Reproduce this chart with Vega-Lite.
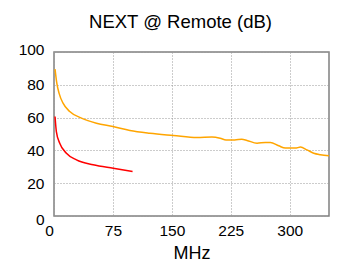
{
  "$schema": "https://vega.github.io/schema/vega-lite/v6.json",
  "width": 275,
  "height": 164,
  "autosize": {"type": "none"},
  "padding": {"left": 54, "top": 52, "right": 20, "bottom": 52},
  "background": "white",
  "title": {
    "text": "NEXT @ Remote (dB)",
    "font": "Liberation Sans",
    "fontSize": 18.5,
    "fontWeight": "normal",
    "color": "#000000",
    "anchor": "middle",
    "offset": 11,
    "dx": -11
  },
  "data": {
    "values": [
      {"series": "Measured", "mhz": 1.3, "db": 89.6},
      {"series": "Measured", "mhz": 3.8, "db": 80.4},
      {"series": "Measured", "mhz": 6.5, "db": 74.8},
      {"series": "Measured", "mhz": 11.5, "db": 68.8},
      {"series": "Measured", "mhz": 20, "db": 63.7},
      {"series": "Measured", "mhz": 35, "db": 59.7},
      {"series": "Measured", "mhz": 54, "db": 56.6},
      {"series": "Measured", "mhz": 75, "db": 54.6},
      {"series": "Measured", "mhz": 96.6, "db": 52.2},
      {"series": "Measured", "mhz": 122, "db": 50.5},
      {"series": "Measured", "mhz": 152, "db": 49.1},
      {"series": "Measured", "mhz": 182, "db": 47.8},
      {"series": "Measured", "mhz": 201, "db": 48.1},
      {"series": "Measured", "mhz": 211.5, "db": 47.4},
      {"series": "Measured", "mhz": 219, "db": 46.4},
      {"series": "Measured", "mhz": 230, "db": 46.4},
      {"series": "Measured", "mhz": 239, "db": 46.8},
      {"series": "Measured", "mhz": 245.6, "db": 46.1},
      {"series": "Measured", "mhz": 258.4, "db": 44.4},
      {"series": "Measured", "mhz": 269, "db": 44.8},
      {"series": "Measured", "mhz": 275.4, "db": 44.8},
      {"series": "Measured", "mhz": 286, "db": 42.8},
      {"series": "Measured", "mhz": 294.5, "db": 41.4},
      {"series": "Measured", "mhz": 307, "db": 41.4},
      {"series": "Measured", "mhz": 313.7, "db": 42.0},
      {"series": "Measured", "mhz": 322, "db": 40.3},
      {"series": "Measured", "mhz": 330.6, "db": 38.3},
      {"series": "Measured", "mhz": 339, "db": 37.4},
      {"series": "Measured", "mhz": 350, "db": 36.7},
      {"series": "Limit", "mhz": 1.3, "db": 60.7},
      {"series": "Limit", "mhz": 3, "db": 51.5},
      {"series": "Limit", "mhz": 7.3, "db": 44.4},
      {"series": "Limit", "mhz": 15.8, "db": 38.3},
      {"series": "Limit", "mhz": 28.6, "db": 34.2},
      {"series": "Limit", "mhz": 49.8, "db": 31.2},
      {"series": "Limit", "mhz": 75.4, "db": 29.1},
      {"series": "Limit", "mhz": 100, "db": 27.2}
    ]
  },
  "mark": {"type": "line", "strokeWidth": 1.5, "interpolate": "monotone", "clip": true},
  "encoding": {
    "x": {
      "field": "mhz",
      "type": "quantitative",
      "scale": {"domain": [0, 350], "nice": false},
      "axis": {
        "values": [0, 75, 150, 225, 300],
        "title": "MHz",
        "titleFontSize": 18,
        "titlePadding": 6,
        "labelPadding": 7,
        "labelOffset": {"condition": {"test": "datum.value === 0", "value": -5}, "value": 0}
      }
    },
    "y": {
      "field": "db",
      "type": "quantitative",
      "scale": {"domain": [0, 100], "nice": false},
      "axis": {
        "values": [0, 20, 40, 60, 80, 100],
        "title": null,
        "labelPadding": 10,
        "labelOffset": {"condition": [{"test": "datum.value === 0", "value": 3}, {"test": "datum.value === 100", "value": -3}], "value": 0}
      }
    },
    "color": {
      "field": "series",
      "type": "nominal",
      "scale": {"domain": ["Measured", "Limit"], "range": ["#FFA500", "#FF0000"]},
      "legend": null
    }
  },
  "config": {
    "view": {"stroke": "#808080", "strokeWidth": 1.5},
    "axis": {
      "labelFont": "Liberation Sans",
      "labelFontSize": 15.5,
      "labelColor": "#000000",
      "titleFont": "Liberation Sans",
      "titleFontWeight": "normal",
      "titleColor": "#000000",
      "ticks": false,
      "domain": false,
      "grid": true,
      "gridColor": "#999999",
      "gridOpacity": 1,
      "gridDash": [1, 2],
      "gridWidth": 1,
      "labelFlush": false,
      "labelOverlap": false
    }
  }
}
